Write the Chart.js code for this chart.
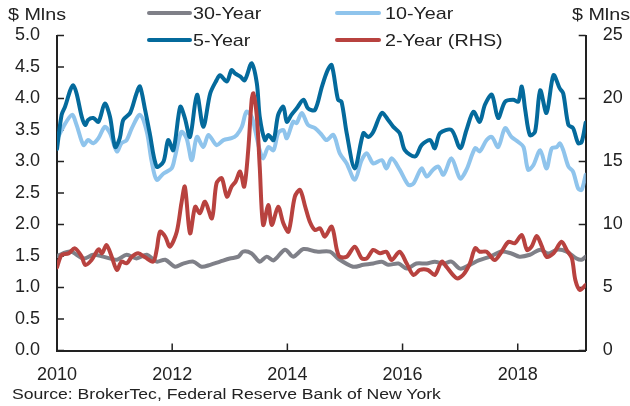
<!DOCTYPE html>
<html lang="en">
<head>
<meta charset="UTF-8">
<title>Treasury trading volume</title>
<script src="https://cdn.jsdelivr.net/npm/chart.js@4"></script>
<style>
  body { margin: 0; background: #fff; }
  #wrap { position: relative; width: 630px; height: 406px; font-family: "Liberation Sans", Arial, sans-serif; color: #222; }
  #wrap canvas { position: absolute; left: 0; top: 0; }
  .txt { position: absolute; white-space: nowrap; line-height: 1; transform-origin: left center; transform: scaleX(1.16); }
  .key { position: absolute; height: 4px; border-radius: 2px; }
</style>
</head>
<body>
<div id="wrap">
  <canvas id="volumeChart" width="630" height="406"></canvas>

  <div class="txt" style="left:8px; top:6px; font-size:17px">$ Mlns</div>
  <div class="txt" style="left:572px; top:6px; font-size:17px">$ Mlns</div>

  <div class="key" style="left:147px; top:11px; width:45px; background:#7f8088"></div>
  <div class="txt" style="left:193px; top:5px; font-size:17px">30-Year</div>
  <div class="key" style="left:335px; top:11px; width:46px; background:#8fc4ec"></div>
  <div class="txt" style="left:385px; top:5px; font-size:17px">10-Year</div>
  <div class="key" style="left:147px; top:38px; width:45px; background:#046a9c"></div>
  <div class="txt" style="left:193px; top:32px; font-size:17px">5-Year</div>
  <div class="key" style="left:335px; top:38px; width:46px; background:#b8423f"></div>
  <div class="txt" style="left:385px; top:32px; font-size:17px">2-Year (RHS)</div>

  <div class="txt" style="left:12px; top:386px; font-size:15.2px">Source: BrokerTec, Federal Reserve Bank of New York</div>
</div>

<script>
// [year, $ mlns]
var thirtyYear = [
  [2010.00,1.50],[2010.23,1.57],[2010.46,1.46],[2010.63,1.52],[2010.80,1.49],[2011.04,1.44],[2011.21,1.52],
  [2011.38,1.46],[2011.56,1.52],[2011.73,1.41],[2011.88,1.44],[2012.05,1.33],[2012.19,1.38],[2012.37,1.41],
  [2012.51,1.33],[2012.66,1.36],[2012.83,1.41],[2013.00,1.46],[2013.15,1.49],[2013.23,1.57],[2013.38,1.54],
  [2013.52,1.41],[2013.64,1.49],[2013.76,1.43],[2013.96,1.60],[2014.10,1.49],[2014.28,1.61],[2014.51,1.57],
  [2014.74,1.57],[2014.88,1.46],[2015.14,1.33],[2015.32,1.36],[2015.49,1.38],[2015.64,1.41],[2015.75,1.36],
  [2015.93,1.38],[2016.07,1.30],[2016.24,1.38],[2016.42,1.38],[2016.56,1.41],[2016.71,1.38],[2016.85,1.41],
  [2017.00,1.30],[2017.17,1.36],[2017.32,1.43],[2017.52,1.49],[2017.72,1.57],[2017.89,1.54],[2018.03,1.49],
  [2018.21,1.52],[2018.39,1.60],[2018.53,1.54],[2018.68,1.60],[2018.85,1.57],[2019.02,1.46],[2019.11,1.44],
  [2019.18,1.49]
];

var tenYear = [
  [2010.00,3.35],[2010.11,3.55],[2010.26,3.74],[2010.34,3.58],[2010.46,3.26],[2010.54,3.34],[2010.63,3.29],
  [2010.72,3.37],[2010.83,3.55],[2010.92,3.45],[2011.04,3.16],[2011.12,3.29],[2011.21,3.34],[2011.30,3.53],
  [2011.44,3.74],[2011.56,3.47],[2011.64,3.02],[2011.73,2.71],[2011.85,2.81],[2011.99,2.89],[2012.05,3.08],
  [2012.16,3.47],[2012.25,3.37],[2012.34,3.02],[2012.43,3.39],[2012.54,3.23],[2012.63,3.42],[2012.77,3.26],
  [2012.89,3.34],[2013.03,3.37],[2013.12,3.42],[2013.21,3.55],[2013.29,3.79],[2013.38,3.71],[2013.44,3.50],
  [2013.52,3.18],[2013.58,3.05],[2013.67,3.23],[2013.76,3.18],[2013.84,3.45],[2013.93,3.50],[2013.99,3.37],
  [2014.10,3.63],[2014.16,3.61],[2014.25,3.77],[2014.36,3.58],[2014.48,3.53],[2014.60,3.42],[2014.68,3.34],
  [2014.80,3.42],[2014.91,3.13],[2015.03,2.97],[2015.17,2.71],[2015.29,3.02],[2015.38,3.13],[2015.49,2.97],
  [2015.64,3.02],[2015.72,2.89],[2015.81,3.05],[2015.95,2.87],[2016.10,2.63],[2016.19,2.65],[2016.33,2.89],
  [2016.42,2.76],[2016.53,2.87],[2016.62,2.92],[2016.71,2.79],[2016.85,3.05],[2017.00,2.73],[2017.11,2.87],
  [2017.26,3.21],[2017.34,3.16],[2017.46,3.34],[2017.55,3.39],[2017.66,3.23],[2017.78,3.53],[2017.89,3.39],
  [2018.01,3.31],[2018.10,3.23],[2018.18,2.87],[2018.27,2.94],[2018.39,3.18],[2018.50,2.89],[2018.59,3.21],
  [2018.68,3.23],[2018.73,3.29],[2018.79,3.18],[2018.88,2.92],[2018.96,2.84],[2019.05,2.57],[2019.11,2.55],
  [2019.18,2.79]
];

var fiveYear = [
  [2010.00,3.20],[2010.08,3.74],[2010.14,3.87],[2010.23,4.13],[2010.28,4.21],[2010.34,4.08],[2010.43,3.71],
  [2010.49,3.58],[2010.54,3.66],[2010.63,3.69],[2010.72,3.63],[2010.83,3.92],[2010.92,3.71],[2011.01,3.23],
  [2011.09,3.37],[2011.15,3.66],[2011.27,3.77],[2011.38,4.08],[2011.44,4.19],[2011.53,3.82],[2011.61,3.45],
  [2011.73,2.92],[2011.85,3.00],[2011.93,3.34],[2012.02,3.18],[2012.14,3.87],[2012.22,3.69],[2012.31,3.39],
  [2012.43,4.06],[2012.54,3.55],[2012.66,4.08],[2012.77,4.29],[2012.83,4.37],[2012.95,4.27],[2013.03,4.45],
  [2013.09,4.40],[2013.18,4.35],[2013.26,4.29],[2013.38,4.56],[2013.47,4.24],[2013.52,3.71],[2013.61,3.34],
  [2013.67,3.42],[2013.76,3.34],[2013.84,3.74],[2013.93,3.87],[2013.99,3.63],[2014.07,3.74],[2014.16,3.84],
  [2014.28,3.98],[2014.36,3.84],[2014.48,3.82],[2014.60,4.19],[2014.70,4.45],[2014.77,4.53],[2014.88,3.98],
  [2014.94,3.95],[2015.03,3.45],[2015.17,2.89],[2015.32,3.45],[2015.40,3.39],[2015.49,3.47],[2015.64,3.77],
  [2015.75,3.66],[2015.84,3.55],[2015.95,3.45],[2016.04,3.18],[2016.22,3.08],[2016.33,3.26],[2016.48,3.34],
  [2016.56,3.21],[2016.65,3.45],[2016.85,3.50],[2017.00,3.21],[2017.11,3.50],[2017.23,3.79],[2017.34,3.63],
  [2017.43,3.90],[2017.55,4.06],[2017.66,3.69],[2017.78,3.95],[2017.92,3.98],[2018.01,3.95],[2018.07,4.19],
  [2018.13,3.82],[2018.21,3.42],[2018.30,3.47],[2018.39,4.13],[2018.50,3.77],[2018.62,4.37],[2018.73,4.16],
  [2018.79,4.08],[2018.88,3.58],[2018.96,3.53],[2019.05,3.29],[2019.11,3.31],[2019.18,3.62]
];

// right hand scale
var twoYear = [
  [2010.00,6.60],[2010.08,7.58],[2010.20,7.71],[2010.31,8.11],[2010.43,7.44],[2010.49,6.79],[2010.60,7.18],
  [2010.72,8.03],[2010.78,7.71],[2010.86,8.37],[2010.95,7.44],[2011.04,6.39],[2011.12,7.05],[2011.21,6.92],
  [2011.30,7.44],[2011.41,7.71],[2011.53,7.40],[2011.67,7.05],[2011.73,7.98],[2011.79,9.43],[2011.88,9.03],
  [2011.96,8.24],[2012.08,9.43],[2012.16,11.68],[2012.22,13.00],[2012.31,9.30],[2012.40,11.41],[2012.48,10.89],
  [2012.57,11.81],[2012.69,10.49],[2012.77,13.27],[2012.86,13.67],[2012.95,12.21],[2013.03,13.00],[2013.10,13.40],
  [2013.18,14.20],[2013.25,13.00],[2013.32,15.90],[2013.38,19.88],[2013.41,20.41],[2013.47,18.56],[2013.52,14.59],
  [2013.58,9.96],[2013.67,11.55],[2013.73,9.96],[2013.84,11.41],[2013.93,10.10],[2014.02,9.43],[2014.13,12.21],
  [2014.22,12.74],[2014.31,11.41],[2014.39,10.22],[2014.48,9.56],[2014.57,9.70],[2014.65,9.03],[2014.77,9.83],
  [2014.86,7.98],[2014.91,7.44],[2015.03,7.44],[2015.17,8.24],[2015.29,7.32],[2015.38,7.32],[2015.49,7.98],
  [2015.61,7.71],[2015.72,7.84],[2015.81,7.18],[2015.95,7.84],[2016.07,6.92],[2016.19,5.99],[2016.30,6.39],
  [2016.44,6.39],[2016.56,5.99],[2016.68,7.05],[2016.76,6.65],[2016.94,5.73],[2017.05,5.99],[2017.17,6.92],
  [2017.26,8.11],[2017.34,7.84],[2017.46,7.84],[2017.60,7.18],[2017.72,7.84],[2017.84,8.63],[2017.95,8.51],
  [2018.07,9.17],[2018.16,7.98],[2018.24,8.24],[2018.33,9.09],[2018.41,8.37],[2018.50,7.44],[2018.62,7.71],
  [2018.76,8.63],[2018.85,7.98],[2018.94,7.32],[2019.00,5.60],[2019.08,4.80],[2019.18,5.20]
];

var xTickYears = [2010, 2012, 2014, 2016, 2018];

function toPoints(rows) {
    return rows.map(function (r) { return { x: r[0], y: r[1] }; });
}

// ticks in the original point inwards, so draw them by hand off the scales
var innerTicks = {
    id: 'innerTicks',
    beforeDatasetsDraw: function (chart) {
        var ctx = chart.ctx, area = chart.chartArea, s = chart.scales;
        ctx.save();
        ctx.strokeStyle = '#222';
        ctx.lineWidth = 1.5;
        ctx.beginPath();
        s.x.ticks.forEach(function (t) {
            var px = s.x.getPixelForValue(t.value);
            ctx.moveTo(px, area.bottom);
            ctx.lineTo(px, area.bottom - 7);
        });
        s.y.ticks.forEach(function (t) {
            var py = s.y.getPixelForValue(t.value);
            ctx.moveTo(area.left, py);
            ctx.lineTo(area.left + 7, py);
        });
        s.y2.ticks.forEach(function (t) {
            var py = s.y2.getPixelForValue(t.value);
            ctx.moveTo(area.right, py);
            ctx.lineTo(area.right - 7, py);
        });
        ctx.stroke();
        ctx.restore();
    }
};

function line(label, rows, color, axis, order) {
    return {
        label: label,
        data: toPoints(rows),
        borderColor: color,
        backgroundColor: color,
        borderWidth: 4,
        pointRadius: 0,
        tension: 0.3,
        borderJoinStyle: 'round',
        borderCapStyle: 'round',
        fill: false,
        yAxisID: axis,
        order: order
    };
}

var tickFont = { family: '"Liberation Sans", Arial, sans-serif', size: 18 };

new Chart(document.getElementById('volumeChart'), {
    type: 'line',
    data: {
        datasets: [
            line('30-Year', thirtyYear, '#7f8088', 'y', 3),
            line('10-Year', tenYear, '#8fc4ec', 'y', 2),
            line('5-Year', fiveYear, '#046a9c', 'y', 1),
            line('2-Year (RHS)', twoYear, '#b8423f', 'y2', 0)
        ]
    },
    options: {
        responsive: false,
        animation: false,
        devicePixelRatio: 1,
        layout: { padding: { top: 35.5, left: 0, right: 0, bottom: 0 } },
        plugins: { legend: { display: false }, tooltip: { enabled: false } },
        scales: {
            x: {
                type: 'linear',
                min: 2010,
                max: 2019.18,
                afterBuildTicks: function (scale) {
                    scale.ticks = xTickYears.map(function (v) { return { value: v }; });
                },
                afterFit: function (scale) { scale.height = 55.5; },
                grid: { display: false, drawTicks: false },
                border: { display: true, color: '#222', width: 2 },
                ticks: {
                    color: '#222', font: tickFont, padding: 14, maxRotation: 0, autoSkip: false,
                    callback: function (v) { return String(v); }
                }
            },
            y: {
                position: 'left',
                min: 0,
                max: 5,
                afterFit: function (scale) { scale.width = 57; },
                grid: { display: false, drawTicks: false },
                border: { display: true, color: '#222', width: 2 },
                ticks: {
                    stepSize: 0.5, color: '#222', font: tickFont, padding: 17,
                    callback: function (v) { return v.toFixed(1); }
                }
            },
            y2: {
                position: 'right',
                min: 0,
                max: 25,
                afterFit: function (scale) { scale.width = 44.3; },
                grid: { display: false, drawTicks: false },
                border: { display: true, color: '#222', width: 2 },
                ticks: { stepSize: 5, color: '#222', font: tickFont, padding: 17 }
            }
        }
    },
    plugins: [innerTicks]
});
</script>
</body>
</html>
